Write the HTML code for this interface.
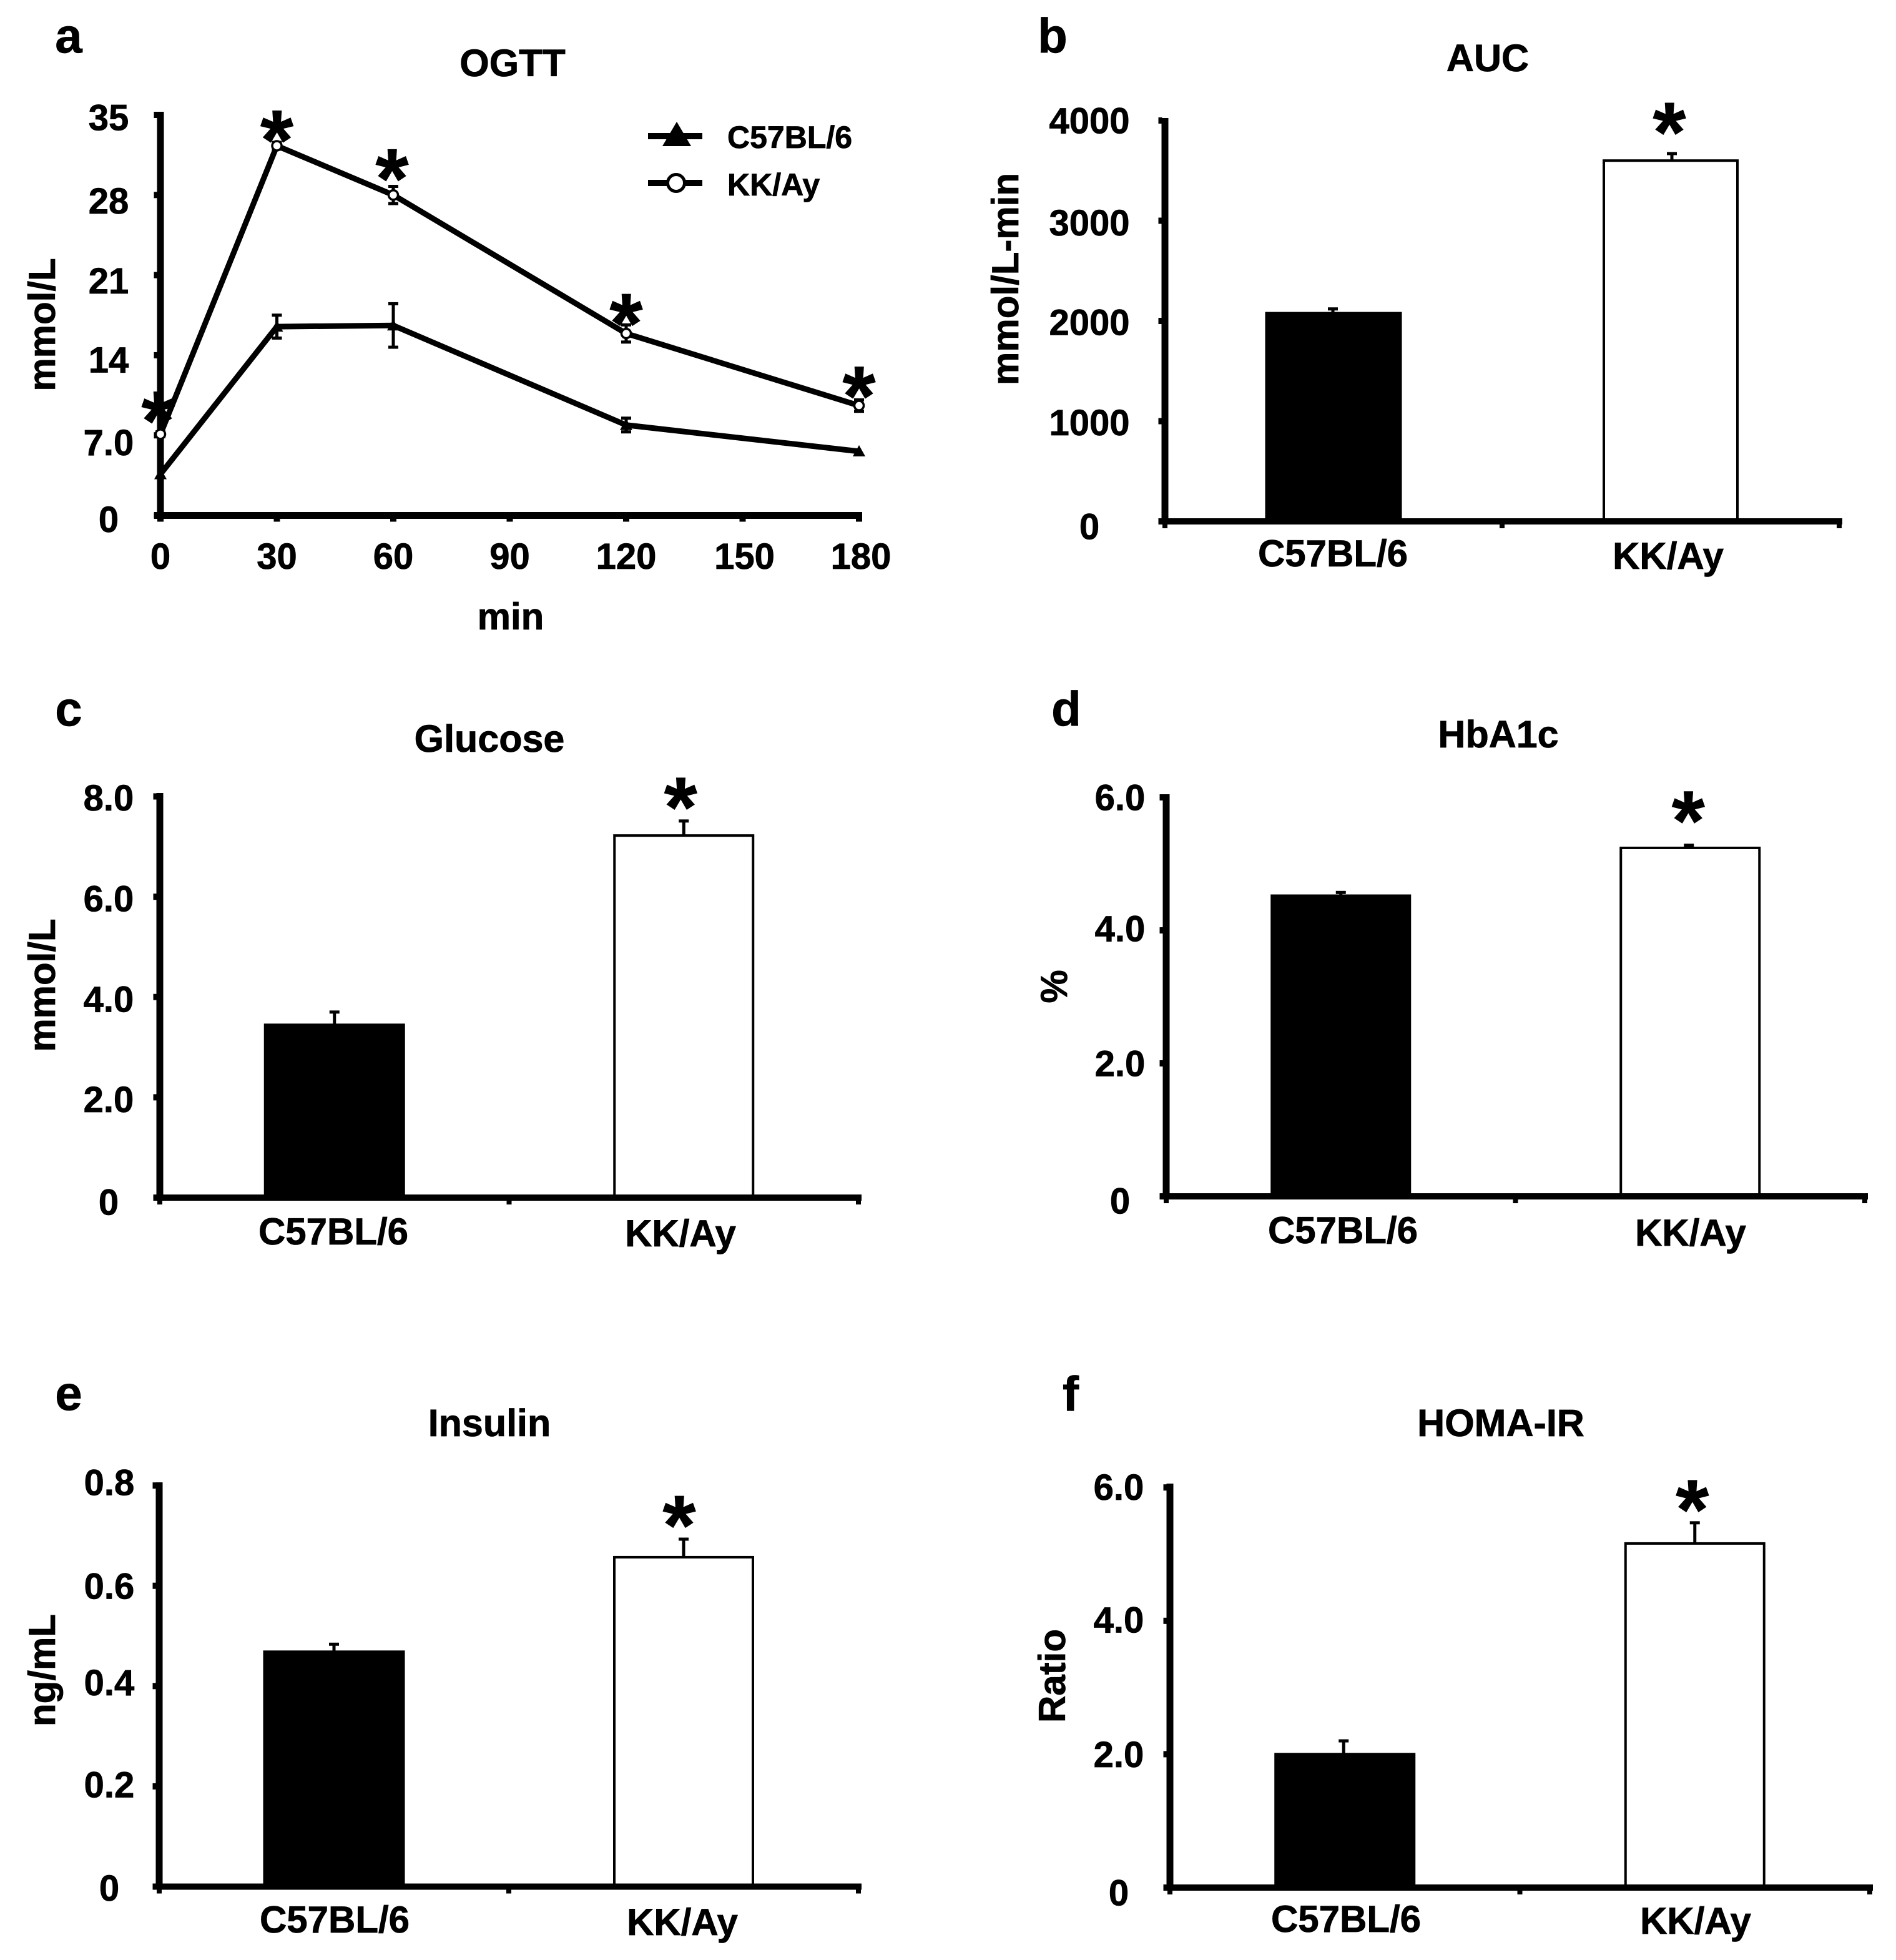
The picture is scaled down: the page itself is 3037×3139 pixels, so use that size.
<!DOCTYPE html>
<html lang="en">
<head>
<meta charset="utf-8">
<title>Metabolic phenotype panels: C57BL/6 vs KK/Ay</title>
<style>
html,body{margin:0;padding:0;background:#fff;width:3037px;height:3139px;overflow:hidden}
svg{display:block}
text{font-family:"Liberation Sans",Arial,sans-serif;font-weight:700;fill:#000;stroke:#000;stroke-width:.8px}
</style>
</head>
<body>
<svg id="figure" xmlns="http://www.w3.org/2000/svg" width="3037" height="3139" viewBox="0 0 3037 3139"></svg>
<script>
// ---- Panel a: OGTT ----
const ogttTimes = [0, 30, 60, 120, 180];
const ogttC57 = [3.6, 16.5, 16.6, 7.9, 5.6];
const ogttC57Err = [0, 1.0, 1.9, 0.6, 0];
const ogttKK = [7.1, 32.3, 28.0, 15.9, 9.6];
const ogttKKErr = [0.2, 0.3, 0.75, 0.75, 0.5];
const ogttYTicks = [0, 7, 14, 21, 28, 35];
const ogttYLabels = ['0', '7.0', '14', '21', '28', '35'];
const ogttXTicks = [0, 30, 60, 90, 120, 150, 180];
const ogttXLabels = ['0', '30', '60', '90', '120', '150', '180'];
// ---- Shared categories ----
const categories = ['C57BL/6', 'KK/Ay'];
// ---- Panel b: AUC ----
const aucValues = [2090, 3600];
const aucErrors = [30, 70];
const aucTicks = [0, 1000, 2000, 3000, 4000];
const aucLabels = ['0', '1000', '2000', '3000', '4000'];
// ---- Panel c: Glucose ----
const glucoseValues = [3.47, 7.22];
const glucoseErrors = [0.23, 0.29];
const glucoseTicks = [0, 2, 4, 6, 8];
const glucoseLabels = ['0', '2.0', '4.0', '6.0', '8.0'];
// ---- Panel d: HbA1c ----
const hba1cValues = [4.54, 5.24];
const hba1cErrors = [0.03, 0.04];
const hba1cTicks = [0, 2, 4, 6];
const hba1cLabels = ['0', '2.0', '4.0', '6.0'];
// ---- Panel e: Insulin ----
const insulinValues = [0.471, 0.657];
const insulinErrors = [0.0125, 0.036];
const insulinTicks = [0, 0.2, 0.4, 0.6, 0.8];
const insulinLabels = ['0', '0.2', '0.4', '0.6', '0.8'];
// ---- Panel f: HOMA-IR ----
const homaValues = [2.02, 5.16];
const homaErrors = [0.18, 0.31];
const homaTicks = [0, 2, 4, 6];
const homaLabels = ['0', '2.0', '4.0', '6.0'];

const NS = 'http://www.w3.org/2000/svg';
const root = document.getElementById('figure');

function mk(parent, tag, name, attrs, txt) {
  const el = document.createElementNS(NS, tag);
  
  
  for (const k in attrs) el.setAttribute(k, attrs[k]);
  if (txt !== undefined) el.textContent = txt;
  parent.appendChild(el);
  return el;
}
function rect(p, name, x, y, w, h, fill) {
  return mk(p, 'rect', name, {x: x, y: y, width: w, height: h, fill: fill || '#000'});
}
function label(p, name, x, y, size, txt, anchor) {
  return mk(p, 'text', name, {x: x, y: y, 'font-size': size, 'text-anchor': anchor || 'middle'}, txt);
}
function vLabel(p, name, x, y, size, txt) {
  return mk(p, 'text', name, {
    x: 0, y: 0, 'font-size': size, 'text-anchor': 'middle',
    transform: 'translate(' + x + ' ' + y + ') rotate(-90)'
  }, txt);
}
const STAR_SIZE = 136;
function star(p, name, cx, cy) {
  return label(p, name, cx, cy + STAR_SIZE * 0.504, STAR_SIZE, '*');
}
function errorBar(p, name, x, yHi, yLo) {
  const g = mk(p, 'g', name, {});
  rect(g, 'error-stem', x - 2.5, yHi, 5, yLo - yHi);
  rect(g, 'error-cap-upper', x - 8, yHi - 2.5, 16, 5);
  return g;
}
function yAxis(p, ax, yScale, ticks, labels, labelX, labelSize, nudges, topY) {
  const g = mk(p, 'g', 'y-axis', {});
  rect(g, 'y-axis-line', ax - 5.5, topY, 11, yScale(ticks[0]) - topY + 5);
  ticks.forEach(function (t, i) {
    const y = yScale(t);
    rect(g, 'y-tick', ax - 10.5, y - 5, 6, 10);
    label(g, 'y-tick-label', labelX, y + labelSize * 0.355 + nudges[i], labelSize, labels[i]);
  });
  return g;
}

/* ------------- panel a ------------- */
(function () {
  const p = mk(root, 'g', 'panel-a-ogtt', {});
  const x0 = 257, pxPerMin = 186.5 / 30, yBase = 825.5, pxPerUnit = 641.5 / 35;
  const xs = function (t) { return x0 + t * pxPerMin; };
  const ys = function (v) { return yBase - v * pxPerUnit; };

  label(p, 'panel-letter-a', 110, 84, 78, 'a');
  label(p, 'chart-title', 821, 122, 61, 'OGTT');
  vLabel(p, 'y-axis-title', 88, 520, 60, 'mmol/L');
  label(p, 'x-axis-title', 818, 1008, 60, 'min');

  yAxis(p, x0, ys, ogttYTicks, ogttYLabels, 174, 58, [6, 11, 7, 9, 9, 4], 179);
  const xa = mk(p, 'g', 'x-axis', {});
  rect(xa, 'x-axis-line', x0 - 10, yBase - 5.5, xs(180) - x0 + 15, 11);
  ogttXTicks.forEach(function (t, i) {
    rect(xa, 'x-tick', xs(t) - 5, yBase, 10, 10);
    label(xa, 'x-tick-label', xs(t) + (t >= 120 ? (t === 120 ? 0 : (t === 150 ? 3 : 3)) : 0), 911, 58, ogttXLabels[i]);
  });

  const lineOf = function (vals) {
    return vals.map(function (v, i) { return xs(ogttTimes[i]) + ',' + ys(v); }).join(' ');
  };
  mk(p, 'polyline', 'c57-line', {points: lineOf(ogttC57), fill: 'none', stroke: '#000', 'stroke-width': 9, 'stroke-linejoin': 'round'});
  mk(p, 'polyline', 'kk-line', {points: lineOf(ogttKK), fill: 'none', stroke: '#000', 'stroke-width': 9, 'stroke-linejoin': 'round'});

  ogttTimes.forEach(function (t, i) {
    const x = xs(t);
    const y = ys(ogttC57[i]);
    if (ogttC57Err[i] > 0) {
      const g = mk(p, 'g', 'c57-error-bar', {});
      rect(g, 'error-stem', x - 2.5, ys(ogttC57[i] + ogttC57Err[i]), 5, ogttC57Err[i] * 2 * pxPerUnit);
      rect(g, 'error-cap-upper', x - 8, ys(ogttC57[i] + ogttC57Err[i]) - 2.5, 16, 5);
      rect(g, 'error-cap-lower', x - 8, ys(ogttC57[i] - ogttC57Err[i]) - 2.5, 16, 5);
    }
    mk(p, 'polygon', 'c57-point', {points: x + ',' + (y - 10) + ' ' + (x + 10) + ',' + (y + 8) + ' ' + (x - 10) + ',' + (y + 8), fill: '#000'});
  });
  const starGaps = [43, 31, 48, 38, 37];
  ogttTimes.forEach(function (t, i) {
    const x = xs(t);
    const y = ys(ogttKK[i]);
    const g = mk(p, 'g', 'kk-error-bar', {});
    rect(g, 'error-stem', x - 2.5, ys(ogttKK[i] + ogttKKErr[i]), 5, ogttKKErr[i] * 2 * pxPerUnit);
    rect(g, 'error-cap-upper', x - 8, ys(ogttKK[i] + ogttKKErr[i]) - 2.5, 16, 5);
    rect(g, 'error-cap-lower', x - 8, ys(ogttKK[i] - ogttKKErr[i]) - 2.5, 16, 5);
    mk(p, 'circle', 'kk-point', {cx: x, cy: y, r: 7.5, fill: '#fff', stroke: '#000', 'stroke-width': 3.5});
    star(p, 'significance-star', x - (i === 0 ? 4 : (i === 2 ? 2 : 0)), y - starGaps[i]);
  });

  const lg = mk(p, 'g', 'legend', {});
  const e1 = mk(lg, 'g', 'legend-entry-c57', {});
  rect(e1, 'legend-line-c57', 1038, 213, 87, 10);
  mk(e1, 'polygon', 'legend-marker-c57', {points: '1084,195 1107,234 1061,234', fill: '#000'});
  label(e1, 'legend-label-c57', 1165, 237, 50, categories[0], 'start');
  const e2 = mk(lg, 'g', 'legend-entry-kk', {});
  rect(e2, 'legend-line-kk', 1038, 288, 87, 10);
  mk(e2, 'circle', 'legend-marker-kk', {cx: 1083, cy: 293, r: 13.5, fill: '#fff', stroke: '#000', 'stroke-width': 5});
  label(e2, 'legend-label-kk', 1165, 313, 50, categories[1], 'start');
})();

/* ------------- bar panels ------------- */
function barPanel(c) {
  const p = mk(root, 'g', c.name, {});
  const ys = function (v) { return c.yBase - v * c.pxPerUnit; };
  const xc = function (i) { return c.ax + (i + 0.5) * c.catW; };

  label(p, c.letterName, c.letterX, c.letterY, 78, c.letter);
  label(p, 'chart-title', c.titleX, c.titleY, 61, c.title);
  vLabel(p, 'y-axis-title', c.yTitleX, c.yTitleY, c.yTitleSize || 60, c.yTitle);

  const bars = mk(p, 'g', 'bars', {});
  c.values.forEach(function (v, i) {
    const cx = xc(i);
    const top = ys(v);
    if (c.errors[i] > 0) {
      errorBar(bars, 'error-bar-' + (i === 0 ? 'c57' : 'kk'), cx + c.errDx[i], ys(v + c.errors[i]), top + 2);
    }
    if (i === 0) {
      rect(bars, 'bar-c57', cx - c.barW[0] / 2, top, c.barW[0], c.yBase - top);
    } else {
      mk(bars, 'rect', 'bar-kk', {x: cx - c.barW[1] / 2, y: top, width: c.barW[1], height: c.yBase - top, fill: '#fff', stroke: '#000', 'stroke-width': 4});
    }
    label(p, 'x-category-label', c.catLabelX[i], c.catLabelY[i], 60, categories[i]);
  });
  star(p, 'significance-star', xc(1) + c.starDx, ys(c.values[1] + c.errors[1]) - c.starGap);

  yAxis(p, c.ax, ys, c.ticks, c.labels, c.tickLabelX, c.tickSize || 58, c.nudges, c.topY);
  const xa = mk(p, 'g', 'x-axis', {});
  rect(xa, 'x-axis-line', c.ax - 10, c.yBase - 5, c.catW * 2 + 15, 10);
  [0, 1, 2].forEach(function (i) {
    rect(xa, 'x-tick', c.ax + i * c.catW - 4, c.yBase, 8, 11);
  });
}

barPanel({
  name: 'panel-b-auc', letter: 'b', letterName: 'panel-letter-b', letterX: 1686, letterY: 84,
  title: 'AUC', titleX: 2383, titleY: 114, yTitle: 'mmol/L-min', yTitleX: 1631, yTitleY: 447,
  ax: 1866, catW: 540, yBase: 835, pxPerUnit: 642 / 4000, topY: 189,
  values: aucValues, errors: aucErrors, ticks: aucTicks, labels: aucLabels,
  tickLabelX: 1745, nudges: [8, 2, 2, 3, 0], barW: [219, 214], errDx: [-1, 2],
  starDx: -2, starGap: 56, catLabelX: [2135, 2672], catLabelY: [907, 911]
});
barPanel({
  name: 'panel-c-glucose', letter: 'c', letterName: 'panel-letter-c', letterX: 110, letterY: 1162,
  title: 'Glucose', titleX: 784, titleY: 1204, yTitle: 'mmol/L', yTitleX: 88, yTitleY: 1578,
  ax: 256, catW: 559.5, yBase: 1918, pxPerUnit: 642.5 / 8, topY: 1270,
  values: glucoseValues, errors: glucoseErrors, ticks: glucoseTicks, labels: glucoseLabels,
  tickLabelX: 174, nudges: [7, 3, 3, 3, 2], barW: [226, 222], errDx: [0, 0],
  starDx: -5, starGap: 44, catLabelX: [534, 1090], catLabelY: [1993, 1996]
});
barPanel({
  name: 'panel-d-hba1c', letter: 'd', letterName: 'panel-letter-d', letterX: 1708, letterY: 1162,
  title: 'HbA1c', titleX: 2400, titleY: 1197, yTitle: '%', yTitleX: 1709, yTitleY: 1580, yTitleSize: 60,
  ax: 1868, catW: 559.5, yBase: 1916, pxPerUnit: 106.5, topY: 1272,
  values: hba1cValues, errors: hba1cErrors, ticks: hba1cTicks, labels: hba1cLabels,
  tickLabelX: 1794, nudges: [7, 0, -3, 0], barW: [225, 222], errDx: [0, -2],
  starDx: -3, starGap: 61, catLabelX: [2151, 2708], catLabelY: [1991, 1995]
});
barPanel({
  name: 'panel-e-insulin', letter: 'e', letterName: 'panel-letter-e', letterX: 110, letterY: 2258,
  title: 'Insulin', titleX: 784, titleY: 2300, yTitle: 'ng/mL', yTitleX: 88, yTitleY: 2675,
  ax: 255, catW: 560, yBase: 3021.5, pxPerUnit: 803, topY: 2374,
  values: insulinValues, errors: insulinErrors, ticks: insulinTicks, labels: insulinLabels,
  tickLabelX: 175, nudges: [2, -3, -6, 0, -5], barW: [227, 222], errDx: [0, 0],
  starDx: -7, starGap: 44, catLabelX: [536, 1093], catLabelY: [3095, 3099]
});
barPanel({
  name: 'panel-f-homa-ir', letter: 'f', letterName: 'panel-letter-f', letterX: 1715, letterY: 2259,
  title: 'HOMA-IR', titleX: 2404, titleY: 2300, yTitle: 'Ratio', yTitleX: 1706, yTitleY: 2684,
  ax: 1874, catW: 560.5, yBase: 3023, pxPerUnit: 106.8, topY: 2376,
  values: homaValues, errors: homaErrors, ticks: homaTicks, labels: homaLabels,
  tickLabelX: 1792, nudges: [8, 0, -2, -1], barW: [226, 222], errDx: [-2, 0],
  starDx: -4, starGap: 43, catLabelX: [2156, 2716], catLabelY: [3094, 3097]
});
</script>
</body>
</html>
